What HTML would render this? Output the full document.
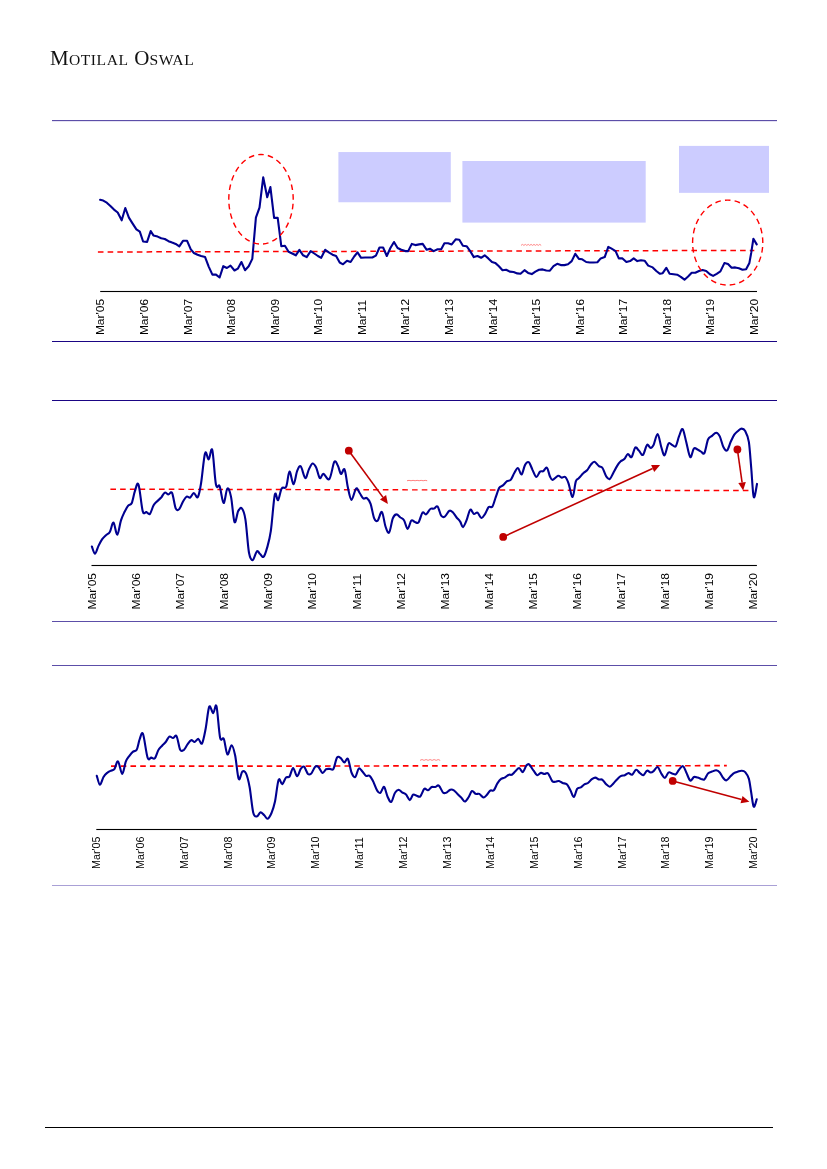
<!DOCTYPE html>
<html lang="en">
<head>
<meta charset="utf-8">
<title>Motilal Oswal</title>
<style>
html,body{margin:0;padding:0;background:#fff;}
body{width:827px;height:1169px;position:relative;overflow:hidden;font-family:"Liberation Sans",sans-serif;}
.brand{position:absolute;left:50px;top:44px;font-family:"Liberation Serif",serif;font-size:21px;line-height:28px;color:#111;letter-spacing:0.3px;white-space:nowrap;}
.brand span{font-size:15.6px;letter-spacing:0.55px;}
svg{position:absolute;left:0;top:0;}
</style>
</head>
<body>
<div class="brand">M<span>OTILAL</span> O<span>SWAL</span></div>
<svg width="827" height="1169" viewBox="0 0 827 1169">
<rect x="52" y="120" width="725" height="1" fill="#5c4ea8"/>
<rect x="52" y="121" width="725" height="1" fill="#e6e3f3"/>
<rect x="52" y="341" width="725" height="1" fill="#1a0584"/>
<rect x="52" y="400" width="725" height="1" fill="#1a0584"/>
<rect x="52" y="621" width="725" height="1" fill="#5c4ea8"/>
<rect x="52" y="665" width="725" height="1" fill="#5c4ea8"/>
<rect x="52" y="885" width="725" height="1" fill="#a9a0d6"/>
<rect x="45" y="1127" width="728" height="1" fill="#000000"/>
<rect x="338.4" y="152.05" width="112.4" height="50.2" fill="#ccccff"/>
<rect x="462.4" y="161" width="183.3" height="61.6" fill="#ccccff"/>
<rect x="679" y="145.9" width="90" height="46.95" fill="#ccccff"/>
<line x1="97.9" y1="252.0" x2="754.3" y2="250.4" stroke="#ff0000" stroke-width="1.5" stroke-dasharray="5.6 4.13"/>
<path d="M521.00 245.40 L522.44 244.40 L523.89 245.40 L525.33 244.40 L526.77 245.40 L528.21 244.40 L529.66 245.40 L531.10 244.40 L532.54 245.40 L533.99 244.40 L535.43 245.40 L536.87 244.40 L538.31 245.40 L539.76 244.40 L541.20 245.40" fill="none" stroke="#ff8888" stroke-width="1"/>
<path d="M100.1 199.8 L103.2 200.6 L106.8 202.7 L110.4 206.0 L114.0 209.6 L117.7 212.5 L121.7 220.3 L125.3 208.0 L128.9 217.6 L132.5 223.4 L136.4 229.4 L139.8 231.7 L143.1 241.5 L147.1 241.9 L150.7 231.0 L153.4 235.4 L157.6 236.6 L161.2 238.3 L164.8 239.0 L168.5 241.2 L172.1 242.6 L175.7 243.9 L179.3 246.3 L183.0 240.8 L187.1 240.8 L190.8 249.3 L193.9 253.0 L197.5 254.8 L201.1 256.1 L205.1 257.1 L208.7 266.6 L212.4 274.6 L216.0 274.6 L219.6 277.5 L223.3 266.2 L226.9 268.0 L230.5 265.6 L234.5 270.5 L237.8 268.7 L241.4 262.0 L245.0 270.2 L248.7 266.2 L252.3 258.9 L255.9 217.6 L259.5 207.6 L263.2 177.3 L267.2 197.2 L270.4 187.1 L274.1 217.9 L277.7 217.9 L281.3 246.2 L284.9 245.7 L288.6 251.7 L292.2 253.5 L295.8 255.3 L299.4 249.8 L303.1 255.3 L306.7 257.1 L310.7 251.1 L314.3 253.5 L317.9 256.0 L321.2 257.8 L325.2 249.8 L328.8 252.4 L332.5 254.7 L336.1 256.0 L339.7 262.5 L343.0 264.3 L347.0 260.7 L350.6 262.0 L354.2 256.5 L357.5 252.4 L361.1 257.8 L365.1 257.5 L368.6 257.5 L372.3 257.5 L375.9 255.6 L379.5 247.5 L383.1 247.5 L386.8 256.0 L390.4 248.0 L394.0 242.0 L397.6 248.0 L401.3 249.8 L405.3 251.1 L408.2 251.1 L411.8 243.9 L415.4 245.1 L419.1 244.4 L422.7 243.9 L426.7 249.8 L429.9 248.7 L433.6 251.1 L437.6 249.3 L441.2 249.3 L444.4 243.3 L448.1 243.3 L451.7 244.4 L455.7 239.3 L459.3 239.7 L462.9 245.7 L466.6 246.2 L470.2 251.1 L473.8 257.1 L477.5 256.0 L481.1 257.8 L484.7 255.3 L488.3 258.4 L492.0 262.0 L495.2 262.9 L498.9 266.2 L502.5 270.2 L506.1 269.8 L509.7 271.6 L513.6 272.0 L517.3 273.4 L520.5 273.8 L524.5 270.2 L528.1 272.9 L531.8 274.1 L535.4 271.6 L539.0 269.8 L542.6 269.4 L546.3 270.5 L549.9 270.7 L553.5 266.2 L557.2 263.8 L560.8 265.1 L564.4 265.1 L568.0 264.3 L571.7 261.1 L575.3 253.8 L578.9 258.9 L582.2 259.3 L586.2 262.0 L589.8 262.5 L593.4 262.5 L597.4 262.2 L600.7 258.4 L604.7 257.1 L608.3 246.9 L611.6 248.7 L615.6 251.1 L618.8 258.4 L622.5 258.4 L626.4 262.0 L630.1 261.1 L633.7 258.4 L637.3 261.1 L641.0 260.2 L644.6 260.7 L648.2 265.6 L652.7 267.4 L656.3 271.0 L660.0 273.8 L662.7 273.2 L666.3 267.8 L669.6 273.8 L673.6 274.3 L677.2 274.7 L680.8 276.8 L684.5 279.7 L688.1 276.5 L691.7 272.8 L695.3 272.8 L699.0 271.0 L702.6 270.1 L706.2 271.0 L709.9 274.3 L713.1 275.9 L716.7 273.8 L720.4 271.4 L724.4 263.1 L728.0 264.1 L731.6 267.8 L735.2 267.4 L738.9 268.3 L742.5 269.8 L746.1 269.2 L749.4 262.9 L751.2 252.9 L753.4 238.7 L756.7 244.4" fill="none" stroke="#000090" stroke-width="2.1" stroke-linejoin="round" stroke-linecap="round"/>
<ellipse cx="261" cy="199.3" rx="32.2" ry="44.8" fill="none" stroke="#ff0000" stroke-width="1.4" pathLength="250" stroke-dasharray="5.75 4.25" stroke-dashoffset="-4.625"/>
<ellipse cx="727.7" cy="242.6" rx="35.1" ry="42.5" fill="none" stroke="#ff0000" stroke-width="1.4" pathLength="250" stroke-dasharray="5.75 4.25" stroke-dashoffset="-4.625"/>
<rect x="100.2" y="290.95" width="656.8" height="1.1" fill="#000"/>
<g font-family="'Liberation Sans', sans-serif" fill="#000">
<text transform="translate(104.40 335.10) rotate(-90) scale(1.030 1)" font-size="11.60" dominant-baseline="auto">Mar&#39;05</text>
<text transform="translate(147.97 335.10) rotate(-90) scale(1.030 1)" font-size="11.60" dominant-baseline="auto">Mar&#39;06</text>
<text transform="translate(191.53 335.10) rotate(-90) scale(1.030 1)" font-size="11.60" dominant-baseline="auto">Mar&#39;07</text>
<text transform="translate(235.10 335.10) rotate(-90) scale(1.030 1)" font-size="11.60" dominant-baseline="auto">Mar&#39;08</text>
<text transform="translate(278.67 335.10) rotate(-90) scale(1.030 1)" font-size="11.60" dominant-baseline="auto">Mar&#39;09</text>
<text transform="translate(322.23 335.10) rotate(-90) scale(1.030 1)" font-size="11.60" dominant-baseline="auto">Mar&#39;10</text>
<text transform="translate(365.80 335.10) rotate(-90) scale(1.030 1)" font-size="11.60" dominant-baseline="auto">Mar&#39;11</text>
<text transform="translate(409.37 335.10) rotate(-90) scale(1.030 1)" font-size="11.60" dominant-baseline="auto">Mar&#39;12</text>
<text transform="translate(452.93 335.10) rotate(-90) scale(1.030 1)" font-size="11.60" dominant-baseline="auto">Mar&#39;13</text>
<text transform="translate(496.50 335.10) rotate(-90) scale(1.030 1)" font-size="11.60" dominant-baseline="auto">Mar&#39;14</text>
<text transform="translate(540.07 335.10) rotate(-90) scale(1.030 1)" font-size="11.60" dominant-baseline="auto">Mar&#39;15</text>
<text transform="translate(583.63 335.10) rotate(-90) scale(1.030 1)" font-size="11.60" dominant-baseline="auto">Mar&#39;16</text>
<text transform="translate(627.20 335.10) rotate(-90) scale(1.030 1)" font-size="11.60" dominant-baseline="auto">Mar&#39;17</text>
<text transform="translate(670.77 335.10) rotate(-90) scale(1.030 1)" font-size="11.60" dominant-baseline="auto">Mar&#39;18</text>
<text transform="translate(714.33 335.10) rotate(-90) scale(1.030 1)" font-size="11.60" dominant-baseline="auto">Mar&#39;19</text>
<text transform="translate(757.90 335.10) rotate(-90) scale(1.030 1)" font-size="11.60" dominant-baseline="auto">Mar&#39;20</text>
</g>
<line x1="110.4" y1="489.2" x2="748.5" y2="490.6" stroke="#ff0000" stroke-width="1.45" stroke-dasharray="5.6 4.13"/>
<path d="M407.00 480.73 L409.02 480.37 L411.04 480.73 L413.06 480.37 L415.08 480.73 L417.10 480.37 L419.12 480.73 L421.14 480.37 L423.16 480.73 L425.18 480.37 L427.20 480.73" fill="none" stroke="#ff8080" stroke-width="1"/>
<path d="M91.9 546.5 C92.4 547.7 93.9 553.9 95.0 553.8 C96.1 553.6 97.4 548.0 98.6 545.6 C99.8 543.2 101.0 541.0 102.2 539.2 C103.4 537.5 104.6 536.5 105.9 535.3 C107.1 534.0 108.6 534.1 109.8 532.0 C111.1 529.9 112.2 522.1 113.5 522.6 C114.7 523.0 116.0 535.0 117.3 534.7 C118.5 534.4 119.7 524.3 120.9 520.6 C122.1 516.8 123.3 514.5 124.5 512.0 C125.7 509.6 127.0 507.2 128.2 505.7 C129.4 504.2 130.7 505.4 131.8 503.0 C132.9 500.6 133.8 494.3 134.9 491.2 C136.0 488.1 137.2 481.1 138.5 484.5 C139.8 487.8 141.4 506.5 142.7 511.1 C144.0 515.7 145.1 511.6 146.3 512.0 C147.5 512.5 148.7 515.0 149.9 513.9 C151.1 512.7 152.4 507.4 153.6 505.3 C154.8 503.2 155.9 502.5 157.2 501.2 C158.5 499.9 159.9 498.9 161.2 497.5 C162.4 496.1 163.6 493.1 164.8 492.6 C166.0 492.1 167.2 494.4 168.4 494.4 C169.6 494.5 170.9 490.7 172.1 493.0 C173.3 495.3 174.5 505.7 175.7 508.4 C176.9 511.1 178.1 510.1 179.3 509.0 C180.5 507.8 181.7 503.8 182.9 501.7 C184.2 499.6 185.4 497.3 186.6 496.6 C187.8 495.9 189.0 498.1 190.2 497.5 C191.4 496.9 192.6 493.1 193.8 493.0 C195.1 492.9 196.6 498.8 197.8 497.2 C199.0 495.5 199.9 490.4 201.1 483.0 C202.3 475.7 203.8 457.0 205.1 453.1 C206.3 449.2 207.5 460.0 208.7 459.4 C209.9 458.9 211.1 445.8 212.3 450.0 C213.5 454.2 214.7 478.8 216.0 484.8 C217.2 490.8 218.3 483.1 219.6 486.1 C220.9 489.1 222.3 502.6 223.6 503.0 C224.9 503.4 226.1 489.5 227.4 488.5 C228.6 487.4 229.8 491.0 231.0 496.6 C232.2 502.2 233.3 519.6 234.5 522.0 C235.7 524.4 237.0 513.4 238.2 511.1 C239.4 508.9 240.6 507.0 241.8 508.4 C243.0 509.8 244.2 511.9 245.4 519.3 C246.6 526.7 247.8 546.0 249.0 552.8 C250.3 559.6 251.4 560.3 252.7 560.1 C254.0 559.9 255.6 552.5 256.8 551.4 C258.1 550.3 258.8 552.8 259.9 553.8 C261.0 554.7 262.3 557.9 263.6 556.8 C264.8 555.8 266.0 551.7 267.2 547.4 C268.4 543.1 269.5 539.8 270.8 531.1 C272.1 522.3 273.6 499.9 274.8 494.8 C276.0 489.7 276.9 501.3 278.1 500.2 C279.2 499.2 280.3 490.7 281.7 488.5 C283.1 486.2 284.9 489.5 286.2 486.6 C287.5 483.8 288.3 472.0 289.5 471.6 C290.7 471.2 292.2 484.3 293.5 484.3 C294.8 484.2 295.9 474.2 297.1 471.2 C298.3 468.2 299.4 465.2 300.7 466.3 C302.1 467.5 303.9 477.6 305.3 478.1 C306.6 478.6 307.7 471.8 308.9 469.4 C310.1 467.0 311.3 463.9 312.5 463.6 C313.7 463.3 314.9 465.2 316.2 467.6 C317.4 470.0 318.6 477.1 319.8 478.1 C321.0 479.2 321.8 473.8 323.4 473.9 C325.0 474.1 327.6 481.1 329.4 479.0 C331.2 477.0 332.9 464.0 334.3 461.8 C335.7 459.6 336.8 463.8 337.9 465.8 C339.0 467.8 339.9 473.3 341.0 473.9 C342.1 474.6 343.5 467.1 344.6 469.4 C345.8 471.7 346.7 482.5 347.9 487.6 C349.0 492.6 350.2 499.7 351.5 499.9 C352.9 500.0 354.7 489.6 356.1 488.5 C357.4 487.3 358.5 491.3 359.7 493.0 C360.9 494.7 362.1 497.6 363.3 498.4 C364.5 499.3 365.7 497.2 366.9 498.1 C368.1 499.0 369.4 500.5 370.6 503.9 C371.8 507.3 373.0 515.6 374.2 518.4 C375.4 521.2 376.4 521.6 377.7 520.6 C379.0 519.5 380.6 511.0 381.9 512.0 C383.2 513.0 384.3 523.1 385.5 526.5 C386.7 530.0 387.9 533.9 389.1 532.5 C390.4 531.2 391.6 521.4 392.8 518.4 C394.0 515.4 395.1 514.5 396.4 514.4 C397.7 514.2 399.1 516.5 400.4 517.5 C401.7 518.4 402.8 518.3 404.0 520.2 C405.2 522.1 406.4 528.8 407.6 528.9 C408.9 529.0 410.1 521.7 411.3 520.6 C412.5 519.4 413.7 521.7 414.9 522.0 C416.1 522.3 417.3 523.9 418.5 522.4 C419.8 520.8 421.3 513.9 422.5 512.6 C423.8 511.3 424.8 515.0 426.1 514.4 C427.4 513.8 429.0 509.9 430.3 509.0 C431.6 508.0 432.7 509.0 433.9 508.6 C435.2 508.2 436.4 505.4 437.6 506.6 C438.8 507.8 440.0 514.0 441.2 515.7 C442.4 517.3 443.5 517.4 444.8 516.6 C446.2 515.8 448.0 511.4 449.4 510.8 C450.7 510.1 451.8 511.5 453.0 512.6 C454.2 513.7 455.4 516.0 456.6 517.5 C457.8 519.0 459.2 520.0 460.2 521.7 C461.3 523.3 461.9 527.3 463.0 527.1 C464.0 526.9 465.4 523.1 466.6 520.2 C467.8 517.3 469.0 510.7 470.2 509.7 C471.4 508.6 472.6 513.4 473.9 513.9 C475.1 514.3 476.2 511.9 477.5 512.6 C478.7 513.3 480.2 517.8 481.5 518.0 C482.7 518.2 483.9 515.7 485.1 513.9 C486.3 512.0 487.5 508.3 488.7 507.1 C489.9 505.9 491.2 508.2 492.4 506.6 C493.5 505.0 494.5 500.6 495.6 497.5 C496.8 494.4 498.0 489.9 499.2 487.9 C500.5 485.9 501.6 486.5 502.9 485.4 C504.2 484.3 505.7 482.1 507.0 481.2 C508.3 480.3 509.5 481.3 510.7 479.9 C511.9 478.6 513.1 475.0 514.3 473.0 C515.5 471.0 516.7 467.7 517.9 468.0 C519.1 468.2 520.4 475.0 521.6 474.5 C522.7 474.0 523.9 466.9 525.1 464.9 C526.3 462.8 527.5 461.4 528.7 462.2 C529.9 462.9 531.1 466.9 532.3 469.4 C533.6 471.9 535.1 476.7 536.3 477.0 C537.6 477.4 538.8 472.6 540.0 471.6 C541.1 470.6 542.1 471.9 543.2 471.2 C544.4 470.6 545.7 466.8 546.8 467.6 C548.0 468.4 549.0 474.3 549.9 476.3 C550.9 478.4 551.3 480.0 552.6 479.9 C554.0 479.8 556.6 476.2 558.1 475.8 C559.6 475.4 560.5 477.4 561.7 477.6 C562.9 477.8 564.2 476.0 565.3 477.0 C566.5 478.0 567.4 480.2 568.6 483.6 C569.8 486.9 571.4 497.4 572.6 497.0 C573.8 496.6 574.8 484.3 575.9 481.2 C576.9 478.1 577.7 479.5 578.9 478.1 C580.2 476.8 582.1 474.3 583.5 473.0 C584.8 471.7 585.9 471.7 587.1 470.3 C588.3 469.0 589.5 466.3 590.7 464.9 C591.9 463.5 593.0 461.6 594.4 461.8 C595.7 462.0 597.5 465.1 598.9 466.1 C600.3 467.2 601.3 466.3 602.5 468.0 C603.7 469.7 604.9 474.5 606.2 476.3 C607.4 478.1 608.6 479.6 609.8 479.0 C611.0 478.4 612.2 474.8 613.4 472.7 C614.6 470.5 615.8 468.1 617.0 466.1 C618.2 464.2 619.5 462.4 620.7 461.3 C621.9 460.1 623.1 460.3 624.3 459.1 C625.5 457.9 626.7 454.3 627.9 454.0 C629.1 453.7 630.3 458.1 631.5 457.1 C632.8 456.0 634.0 448.8 635.2 447.6 C636.4 446.5 637.5 449.2 638.8 450.4 C640.1 451.6 641.6 455.8 643.0 454.9 C644.3 454.0 645.7 446.1 647.0 444.9 C648.2 443.8 649.5 448.0 650.6 448.0 C651.7 448.0 652.5 447.3 653.6 444.9 C654.8 442.6 656.3 433.7 657.6 434.0 C658.9 434.3 660.1 443.2 661.2 446.7 C662.4 450.3 663.3 455.8 664.5 455.3 C665.7 454.8 667.2 445.4 668.5 443.7 C669.8 441.9 670.9 444.5 672.1 444.9 C673.3 445.4 674.6 447.6 675.8 446.2 C676.9 444.8 677.9 439.2 679.0 436.4 C680.2 433.6 681.4 428.2 682.6 429.1 C683.9 430.1 685.0 437.6 686.3 442.2 C687.5 446.9 689.0 456.0 690.3 457.1 C691.5 458.1 692.7 449.8 693.9 448.6 C695.1 447.3 696.3 448.9 697.5 449.5 C698.7 450.0 700.0 451.0 701.1 451.6 C702.3 452.2 703.3 455.1 704.4 453.1 C705.6 451.1 706.8 442.4 708.0 439.5 C709.3 436.6 710.7 437.0 712.0 435.9 C713.4 434.7 714.9 432.7 716.2 432.8 C717.5 432.9 718.6 434.0 719.8 436.4 C721.0 438.8 722.2 445.0 723.5 447.3 C724.7 449.6 725.9 451.3 727.1 450.4 C728.3 449.5 729.5 444.5 730.7 441.8 C731.9 439.2 733.1 436.4 734.3 434.6 C735.6 432.8 736.8 432.0 738.0 431.0 C739.2 430.0 740.4 428.6 741.6 428.6 C742.8 428.6 744.0 428.7 745.2 431.0 C746.4 433.2 747.9 436.1 748.9 442.2 C749.8 448.3 750.4 458.5 751.2 467.6 C752.0 476.7 752.8 494.3 753.7 497.0 C754.7 499.7 756.5 486.1 757.0 483.9" fill="none" stroke="#000090" stroke-width="2.1" stroke-linejoin="round" stroke-linecap="round"/>
<circle cx="348.8" cy="450.7" r="3.9" fill="#c00000"/><line x1="348.8" y1="450.7" x2="383.0" y2="497.4" stroke="#c00000" stroke-width="1.6"/><polygon points="387.9,504.0 380.0,499.6 386.1,495.1" fill="#c00000"/>
<circle cx="503.2" cy="536.9" r="3.9" fill="#c00000"/><line x1="503.2" y1="536.9" x2="652.6" y2="468.4" stroke="#c00000" stroke-width="1.6"/><polygon points="660.1,465.0 654.2,471.9 651.1,465.0" fill="#c00000"/>
<circle cx="737.4" cy="449.5" r="3.9" fill="#c00000"/><line x1="737.4" y1="449.5" x2="742.1" y2="482.5" stroke="#c00000" stroke-width="1.6"/><polygon points="743.2,490.6 738.3,483.0 745.8,481.9" fill="#c00000"/>
<rect x="91.5" y="564.95" width="665.4" height="1.1" fill="#000"/>
<g font-family="'Liberation Sans', sans-serif" fill="#000">
<text transform="translate(96.00 609.50) rotate(-90) scale(1.035 1)" font-size="11.70" dominant-baseline="auto">Mar&#39;05</text>
<text transform="translate(140.09 609.50) rotate(-90) scale(1.035 1)" font-size="11.70" dominant-baseline="auto">Mar&#39;06</text>
<text transform="translate(184.19 609.50) rotate(-90) scale(1.035 1)" font-size="11.70" dominant-baseline="auto">Mar&#39;07</text>
<text transform="translate(228.28 609.50) rotate(-90) scale(1.035 1)" font-size="11.70" dominant-baseline="auto">Mar&#39;08</text>
<text transform="translate(272.37 609.50) rotate(-90) scale(1.035 1)" font-size="11.70" dominant-baseline="auto">Mar&#39;09</text>
<text transform="translate(316.47 609.50) rotate(-90) scale(1.035 1)" font-size="11.70" dominant-baseline="auto">Mar&#39;10</text>
<text transform="translate(360.56 609.50) rotate(-90) scale(1.035 1)" font-size="11.70" dominant-baseline="auto">Mar&#39;11</text>
<text transform="translate(404.65 609.50) rotate(-90) scale(1.035 1)" font-size="11.70" dominant-baseline="auto">Mar&#39;12</text>
<text transform="translate(448.75 609.50) rotate(-90) scale(1.035 1)" font-size="11.70" dominant-baseline="auto">Mar&#39;13</text>
<text transform="translate(492.84 609.50) rotate(-90) scale(1.035 1)" font-size="11.70" dominant-baseline="auto">Mar&#39;14</text>
<text transform="translate(536.93 609.50) rotate(-90) scale(1.035 1)" font-size="11.70" dominant-baseline="auto">Mar&#39;15</text>
<text transform="translate(581.03 609.50) rotate(-90) scale(1.035 1)" font-size="11.70" dominant-baseline="auto">Mar&#39;16</text>
<text transform="translate(625.12 609.50) rotate(-90) scale(1.035 1)" font-size="11.70" dominant-baseline="auto">Mar&#39;17</text>
<text transform="translate(669.21 609.50) rotate(-90) scale(1.035 1)" font-size="11.70" dominant-baseline="auto">Mar&#39;18</text>
<text transform="translate(713.31 609.50) rotate(-90) scale(1.035 1)" font-size="11.70" dominant-baseline="auto">Mar&#39;19</text>
<text transform="translate(757.40 609.50) rotate(-90) scale(1.035 1)" font-size="11.70" dominant-baseline="auto">Mar&#39;20</text>
</g>
<line x1="111.0" y1="766.2" x2="726.8" y2="765.7" stroke="#ff0000" stroke-width="1.7" stroke-dasharray="5.6 4.13"/>
<path d="M420.00 760.37 L422.02 759.53 L424.04 760.37 L426.06 759.53 L428.08 760.37 L430.10 759.53 L432.12 760.37 L434.14 759.53 L436.16 760.37 L438.18 759.53 L440.20 760.37" fill="none" stroke="#ff8888" stroke-width="1"/>
<path d="M96.8 775.8 C97.3 777.3 98.8 784.6 99.9 784.8 C101.0 785.0 102.3 779.0 103.5 777.0 C104.7 775.0 105.9 773.9 107.1 772.9 C108.3 771.8 109.5 771.3 110.8 770.7 C112.0 770.1 113.2 770.8 114.4 769.2 C115.6 767.7 116.7 760.5 118.0 761.3 C119.3 762.0 120.9 773.9 122.2 774.0 C123.5 774.0 124.6 764.6 125.8 761.6 C127.0 758.6 128.2 757.5 129.4 755.8 C130.6 754.2 131.9 752.6 133.1 751.6 C134.3 750.6 135.6 751.9 136.7 749.8 C137.8 747.7 138.7 741.6 139.8 738.9 C140.8 736.3 141.7 730.8 143.0 733.9 C144.3 737.0 146.2 753.7 147.6 757.6 C148.9 761.6 150.0 757.5 151.2 757.6 C152.4 757.8 153.6 759.7 154.8 758.4 C156.0 757.1 157.2 751.9 158.5 749.8 C159.7 747.7 160.9 747.0 162.1 745.7 C163.3 744.4 164.5 743.5 165.7 742.0 C166.9 740.5 168.1 737.3 169.3 736.6 C170.6 735.9 171.8 738.1 173.0 738.0 C174.2 738.0 175.4 734.3 176.6 736.2 C177.8 738.2 179.0 747.6 180.2 749.8 C181.4 752.1 182.6 750.7 183.9 749.8 C185.1 748.9 186.3 746.0 187.5 744.4 C188.7 742.8 189.9 740.6 191.1 740.2 C192.3 739.8 193.5 742.2 194.7 742.0 C195.9 741.8 197.2 738.7 198.4 738.9 C199.6 739.2 200.8 745.1 202.0 743.5 C203.2 741.8 204.4 735.1 205.6 729.0 C206.8 722.9 208.0 709.5 209.2 706.8 C210.5 704.2 212.0 713.3 213.2 713.2 C214.4 713.1 215.4 702.2 216.5 706.3 C217.6 710.4 218.9 732.2 220.1 737.7 C221.3 743.1 222.5 736.2 223.8 738.9 C225.0 741.7 226.1 753.3 227.4 754.4 C228.7 755.4 230.3 745.1 231.6 745.3 C232.8 745.4 233.9 749.7 235.1 755.3 C236.3 760.9 237.5 776.1 238.7 778.9 C239.9 781.6 241.1 772.5 242.3 771.6 C243.5 770.7 244.8 770.8 246.0 773.4 C247.2 776.0 248.4 780.5 249.6 787.0 C250.8 793.5 252.0 807.5 253.2 812.4 C254.4 817.3 255.6 816.4 256.8 816.4 C258.1 816.4 259.3 812.6 260.5 812.4 C261.7 812.2 262.9 814.1 264.1 815.1 C265.3 816.2 266.5 819.1 267.7 818.8 C268.9 818.5 270.1 816.2 271.4 813.3 C272.6 810.4 273.8 807.1 275.0 801.5 C276.2 795.9 277.4 782.6 278.6 779.8 C279.8 776.9 281.0 784.7 282.2 784.3 C283.4 783.9 284.7 778.9 285.9 777.6 C287.1 776.3 288.3 778.1 289.5 776.5 C290.7 774.9 291.9 768.0 293.1 768.0 C294.4 767.9 295.8 776.0 297.1 776.1 C298.4 776.3 299.6 770.4 300.7 768.9 C301.9 767.3 302.8 765.9 304.0 766.7 C305.2 767.5 306.8 772.8 308.0 774.0 C309.2 775.1 310.0 774.6 311.3 773.4 C312.5 772.2 314.0 767.8 315.2 766.7 C316.5 765.6 317.3 766.0 318.5 767.1 C319.7 768.1 321.2 772.5 322.5 772.9 C323.8 773.2 324.9 769.9 326.1 769.2 C327.3 768.6 328.5 768.9 329.8 768.9 C331.0 768.8 332.2 770.7 333.4 768.9 C334.6 767.0 335.8 759.4 337.0 757.6 C338.2 755.8 339.4 757.2 340.6 758.0 C341.9 758.8 343.1 762.4 344.3 762.5 C345.5 762.7 346.7 757.2 347.9 758.9 C349.1 760.6 350.3 769.5 351.5 772.5 C352.7 775.5 353.9 777.7 355.2 777.0 C356.4 776.4 357.6 769.4 358.8 768.5 C360.0 767.6 361.2 770.4 362.4 771.6 C363.6 772.8 364.8 775.1 366.0 775.8 C367.2 776.5 368.5 774.8 369.7 775.8 C370.9 776.7 372.0 779.1 373.3 781.6 C374.5 784.1 376.0 788.8 377.2 790.6 C378.4 792.5 379.3 793.4 380.4 792.8 C381.6 792.2 382.9 786.3 384.1 787.0 C385.3 787.7 386.5 794.5 387.7 797.0 C388.9 799.5 390.1 802.6 391.3 801.9 C392.5 801.2 393.7 794.8 395.0 792.8 C396.2 790.8 397.4 789.8 398.6 789.7 C399.8 789.7 401.0 791.7 402.2 792.5 C403.4 793.2 404.6 793.0 405.8 794.3 C407.1 795.5 408.6 800.0 409.8 800.1 C411.0 800.1 411.9 795.4 413.1 794.6 C414.2 793.9 415.5 795.4 416.7 795.7 C417.9 796.0 419.1 797.6 420.3 796.4 C421.6 795.3 423.1 789.9 424.3 788.8 C425.6 787.8 426.8 790.6 428.0 790.3 C429.2 790.0 430.4 787.6 431.6 787.0 C432.8 786.5 434.0 787.3 435.2 787.0 C436.4 786.8 437.5 784.7 438.8 785.6 C440.1 786.5 441.8 791.2 443.0 792.5 C444.2 793.7 444.9 793.3 446.1 792.8 C447.3 792.4 449.0 790.2 450.3 789.7 C451.6 789.3 452.7 789.6 453.9 790.3 C455.1 791.0 456.3 792.7 457.5 793.9 C458.7 795.1 459.9 796.3 461.2 797.5 C462.4 798.8 463.6 801.5 464.8 801.5 C466.0 801.5 467.2 799.3 468.4 797.5 C469.6 795.8 470.8 791.6 472.0 791.0 C473.2 790.4 474.5 793.4 475.7 793.9 C476.9 794.4 478.0 793.3 479.3 793.9 C480.6 794.5 482.3 797.3 483.5 797.5 C484.7 797.7 485.4 796.3 486.5 795.2 C487.7 794.0 489.0 791.5 490.2 790.6 C491.4 789.8 492.6 791.5 493.8 790.3 C495.0 789.1 496.2 785.3 497.4 783.4 C498.6 781.5 499.8 779.8 501.1 778.9 C502.3 777.9 503.4 778.3 504.7 777.6 C506.0 776.9 507.6 775.2 508.9 774.7 C510.1 774.2 510.8 775.3 511.9 774.7 C513.1 774.1 514.4 772.2 515.6 771.1 C516.8 769.9 518.0 767.8 519.2 768.0 C520.4 768.1 521.5 772.5 522.7 772.1 C523.9 771.7 525.3 766.9 526.3 765.6 C527.4 764.3 527.9 763.5 529.1 764.3 C530.3 765.2 532.2 768.9 533.6 770.7 C535.0 772.5 536.0 774.9 537.2 775.2 C538.4 775.6 539.6 773.1 540.9 772.9 C542.1 772.7 543.3 773.9 544.5 774.0 C545.7 774.0 546.8 772.2 548.1 773.4 C549.4 774.6 551.0 779.8 552.3 781.2 C553.6 782.6 554.8 781.6 555.9 781.6 C557.0 781.5 557.9 780.8 559.0 781.0 C560.1 781.3 561.3 782.5 562.6 783.0 C563.9 783.6 565.5 783.1 566.8 784.3 C568.1 785.5 569.2 788.2 570.4 790.3 C571.6 792.4 572.8 797.2 573.9 797.0 C575.0 796.7 576.0 790.4 577.1 788.8 C578.3 787.2 579.6 788.1 580.8 787.4 C582.0 786.6 583.2 785.0 584.4 784.3 C585.6 783.6 586.8 783.8 588.0 783.0 C589.2 782.2 590.4 780.3 591.6 779.4 C592.9 778.5 594.1 777.6 595.3 777.6 C596.5 777.6 597.7 779.0 598.9 779.4 C600.1 779.8 601.3 778.9 602.5 779.8 C603.7 780.6 604.9 783.1 606.2 784.3 C607.4 785.4 608.6 786.8 609.8 786.7 C611.0 786.5 612.2 784.6 613.4 783.4 C614.6 782.2 615.8 780.6 617.0 779.4 C618.2 778.2 619.4 776.8 620.7 776.1 C622.0 775.4 623.5 775.7 624.8 775.2 C626.1 774.7 627.3 773.1 628.5 773.0 C629.7 773.0 630.8 775.2 632.1 774.7 C633.4 774.1 634.8 770.1 636.1 769.8 C637.4 769.5 638.5 772.0 639.7 772.9 C640.9 773.8 642.1 775.6 643.3 775.2 C644.5 774.9 645.8 771.1 647.0 770.7 C648.2 770.2 649.5 772.4 650.6 772.5 C651.7 772.6 652.5 772.0 653.6 771.1 C654.8 770.1 656.3 766.7 657.6 767.1 C658.9 767.5 660.0 771.6 661.2 773.4 C662.5 775.2 663.7 778.1 664.9 777.9 C666.1 777.8 667.3 773.3 668.5 772.5 C669.7 771.7 670.9 773.1 672.1 773.4 C673.3 773.7 674.6 774.9 675.8 774.3 C676.9 773.7 677.8 771.1 679.0 769.8 C680.2 768.4 681.8 765.7 683.0 766.2 C684.2 766.6 685.1 770.1 686.3 772.5 C687.5 774.9 689.0 779.9 690.3 780.7 C691.5 781.4 692.7 777.6 693.9 777.0 C695.1 776.5 696.3 777.3 697.5 777.6 C698.7 777.9 700.0 778.5 701.1 778.9 C702.3 779.2 703.3 780.3 704.4 779.4 C705.6 778.5 706.8 774.7 708.0 773.4 C709.3 772.1 710.7 772.1 712.0 771.6 C713.4 771.1 714.9 770.2 716.2 770.3 C717.5 770.5 718.6 771.2 719.8 772.5 C721.0 773.8 722.3 777.0 723.5 778.3 C724.6 779.6 725.3 780.7 726.5 780.3 C727.8 779.9 729.4 777.4 730.7 776.1 C732.0 774.9 733.1 773.6 734.3 772.9 C735.6 772.1 736.8 772.0 738.0 771.6 C739.2 771.2 740.4 770.6 741.6 770.7 C742.8 770.8 744.0 770.8 745.2 772.1 C746.4 773.5 747.9 775.5 748.9 778.9 C749.8 782.2 750.4 787.8 751.2 792.5 C752.0 797.1 752.8 805.5 753.7 806.6 C754.7 807.8 756.2 800.6 756.7 799.3" fill="none" stroke="#000090" stroke-width="2.1" stroke-linejoin="round" stroke-linecap="round"/>
<circle cx="672.7" cy="780.9" r="3.9" fill="#c00000"/><line x1="672.7" y1="780.9" x2="741.5" y2="799.6" stroke="#c00000" stroke-width="1.6"/><polygon points="749.4,801.7 740.5,803.2 742.5,795.9" fill="#c00000"/>
<rect x="96.3" y="828.95" width="660.5" height="1.1" fill="#000"/>
<g font-family="'Liberation Sans', sans-serif" fill="#000">
<text transform="translate(100.30 868.90) rotate(-90) scale(0.975 1)" font-size="11.00" dominant-baseline="auto">Mar&#39;05</text>
<text transform="translate(144.08 868.90) rotate(-90) scale(0.975 1)" font-size="11.00" dominant-baseline="auto">Mar&#39;06</text>
<text transform="translate(187.86 868.90) rotate(-90) scale(0.975 1)" font-size="11.00" dominant-baseline="auto">Mar&#39;07</text>
<text transform="translate(231.64 868.90) rotate(-90) scale(0.975 1)" font-size="11.00" dominant-baseline="auto">Mar&#39;08</text>
<text transform="translate(275.42 868.90) rotate(-90) scale(0.975 1)" font-size="11.00" dominant-baseline="auto">Mar&#39;09</text>
<text transform="translate(319.20 868.90) rotate(-90) scale(0.975 1)" font-size="11.00" dominant-baseline="auto">Mar&#39;10</text>
<text transform="translate(362.98 868.90) rotate(-90) scale(0.975 1)" font-size="11.00" dominant-baseline="auto">Mar&#39;11</text>
<text transform="translate(406.76 868.90) rotate(-90) scale(0.975 1)" font-size="11.00" dominant-baseline="auto">Mar&#39;12</text>
<text transform="translate(450.54 868.90) rotate(-90) scale(0.975 1)" font-size="11.00" dominant-baseline="auto">Mar&#39;13</text>
<text transform="translate(494.32 868.90) rotate(-90) scale(0.975 1)" font-size="11.00" dominant-baseline="auto">Mar&#39;14</text>
<text transform="translate(538.10 868.90) rotate(-90) scale(0.975 1)" font-size="11.00" dominant-baseline="auto">Mar&#39;15</text>
<text transform="translate(581.88 868.90) rotate(-90) scale(0.975 1)" font-size="11.00" dominant-baseline="auto">Mar&#39;16</text>
<text transform="translate(625.66 868.90) rotate(-90) scale(0.975 1)" font-size="11.00" dominant-baseline="auto">Mar&#39;17</text>
<text transform="translate(669.44 868.90) rotate(-90) scale(0.975 1)" font-size="11.00" dominant-baseline="auto">Mar&#39;18</text>
<text transform="translate(713.22 868.90) rotate(-90) scale(0.975 1)" font-size="11.00" dominant-baseline="auto">Mar&#39;19</text>
<text transform="translate(757.00 868.90) rotate(-90) scale(0.975 1)" font-size="11.00" dominant-baseline="auto">Mar&#39;20</text>
</g>
</svg>
</body>
</html>
